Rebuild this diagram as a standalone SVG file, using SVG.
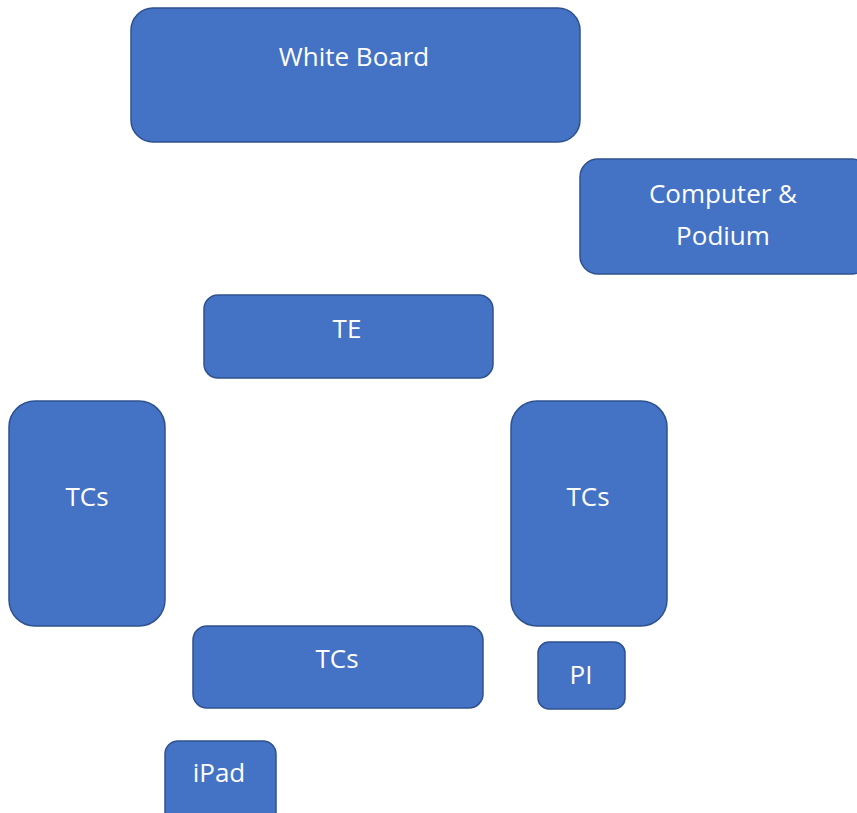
<svg xmlns="http://www.w3.org/2000/svg" width="857" height="813" viewBox="0 0 857 813">
<style>
.n{fill:#4472C4;stroke:#2F528F;stroke-width:1.5}
.t{fill:#fff;font-family:"Open Sans","Liberation Sans",sans-serif;font-size:26px;text-anchor:middle}
</style>
<rect width="857" height="813" fill="#fff"/>
<g id="whiteboard"><rect class="n" x="131" y="8" width="449" height="134" rx="22"/><text class="t" x="354" y="66">White Board</text></g>
<g id="computer"><rect class="n" x="580" y="159" width="290" height="115" rx="18"/><text class="t" x="723" y="203">Computer &amp;</text><text class="t" x="723" y="245">Podium</text></g>
<g id="te"><rect class="n" x="204" y="295" width="289" height="83" rx="14"/><text class="t" x="347" y="338">TE</text></g>
<g id="tcs-left"><rect class="n" x="9" y="401" width="156" height="225" rx="26"/><text class="t" x="87" y="506">TCs</text></g>
<g id="tcs-right"><rect class="n" x="511" y="401" width="156" height="225" rx="26"/><text class="t" x="588" y="506">TCs</text></g>
<g id="tcs-bottom"><rect class="n" x="193" y="626" width="290" height="82" rx="14"/><text class="t" x="337" y="668">TCs</text></g>
<g id="pi"><rect class="n" x="538" y="642" width="87" height="67" rx="11"/><text class="t" x="581" y="684">PI</text></g>
<g id="ipad"><rect class="n" x="165" y="741" width="111" height="90" rx="13"/><text class="t" x="219" y="782">iPad</text></g>
<g id="connectors"/>
</svg>
